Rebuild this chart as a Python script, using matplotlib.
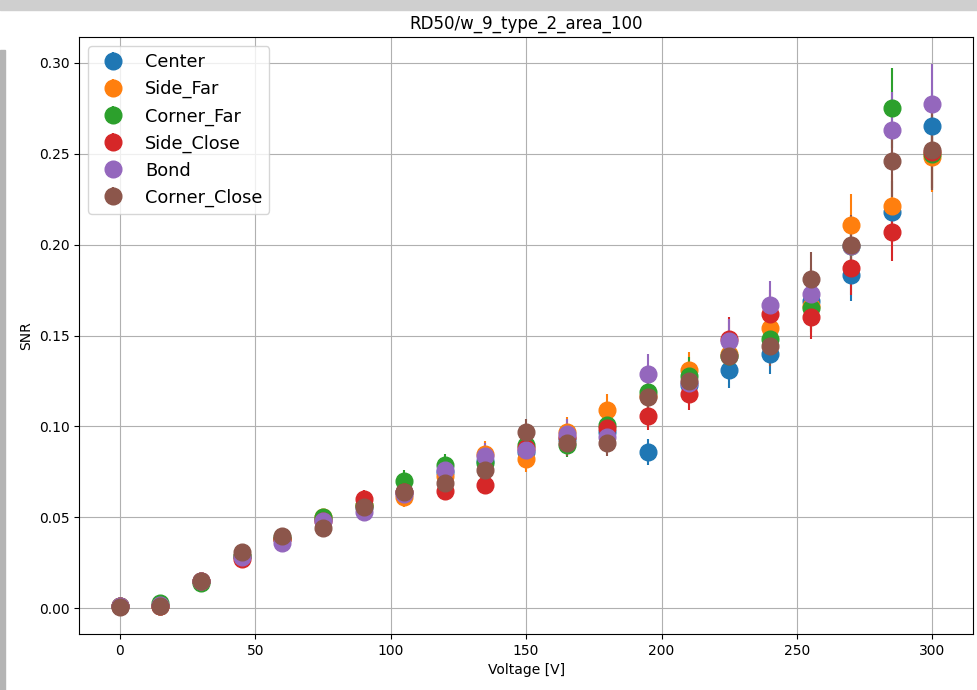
import matplotlib
matplotlib.use("Agg")
import matplotlib.pyplot as plt
from matplotlib.patches import Rectangle

voltage = [0, 15, 30, 45, 60, 75, 90, 105, 120, 135, 150,
           165, 180, 195, 210, 225, 240, 255, 270, 285, 300]

pads = ["Center", "Side_Far", "Corner_Far", "Side_Close", "Bond", "Corner_Close"]

snr_center = [0.0015, 0.0015, 0.015, 0.029, 0.038, 0.049, 0.056, 0.064, 0.075, 0.081, 0.086,
              0.093, 0.097, 0.086, 0.123, 0.131, 0.140, 0.169, 0.183, 0.218, 0.265]
snr_side_far = [0.0015, 0.0015, 0.015, 0.029, 0.038, 0.050, 0.057, 0.061, 0.073, 0.085, 0.082,
                0.097, 0.109, 0.117, 0.131, 0.140, 0.154, 0.166, 0.211, 0.221, 0.248]
snr_corner_far = [0.0015, 0.003, 0.014, 0.029, 0.039, 0.050, 0.057, 0.070, 0.079, 0.080, 0.090,
                  0.090, 0.101, 0.119, 0.128, 0.139, 0.148, 0.165, 0.199, 0.275, 0.250]
snr_side_close = [0.0015, 0.0015, 0.015, 0.027, 0.038, 0.048, 0.060, 0.064, 0.0645, 0.068, 0.088,
                  0.094, 0.099, 0.106, 0.118, 0.148, 0.162, 0.160, 0.187, 0.207, 0.251]
snr_bond = [0.0015, 0.002, 0.015, 0.028, 0.036, 0.048, 0.053, 0.063, 0.076, 0.084, 0.087,
            0.096, 0.094, 0.129, 0.124, 0.147, 0.167, 0.173, 0.199, 0.263, 0.277]
snr_corner_close = [0.001, 0.0015, 0.015, 0.031, 0.040, 0.044, 0.056, 0.064, 0.069, 0.076, 0.097,
                    0.091, 0.091, 0.116, 0.125, 0.139, 0.144, 0.181, 0.200, 0.246, 0.252]

err_center = [0.0002, 0.0002, 0.001, 0.002, 0.003, 0.004, 0.004, 0.005, 0.006, 0.006, 0.007,
              0.007, 0.008, 0.007, 0.010, 0.010, 0.011, 0.013, 0.014, 0.017, 0.020]
err_side_far = [0.0002, 0.0002, 0.001, 0.002, 0.003, 0.004, 0.005, 0.005, 0.006, 0.007, 0.007,
                0.008, 0.009, 0.010, 0.010, 0.011, 0.012, 0.013, 0.017, 0.018, 0.019]
err_corner_far = [0.0002, 0.0003, 0.001, 0.002, 0.003, 0.004, 0.005, 0.006, 0.006, 0.006, 0.007,
                  0.007, 0.008, 0.009, 0.010, 0.011, 0.011, 0.013, 0.016, 0.022, 0.020]
err_side_close = [0.0002, 0.0002, 0.001, 0.002, 0.003, 0.004, 0.005, 0.005, 0.005, 0.005, 0.007,
                  0.007, 0.008, 0.008, 0.009, 0.012, 0.013, 0.012, 0.015, 0.016, 0.020]
err_bond = [0.0002, 0.0002, 0.001, 0.002, 0.003, 0.004, 0.004, 0.005, 0.006, 0.007, 0.007,
            0.008, 0.007, 0.011, 0.010, 0.012, 0.013, 0.014, 0.015, 0.021, 0.022]
err_corner_close = [0.0002, 0.0002, 0.001, 0.002, 0.003, 0.004, 0.004, 0.005, 0.005, 0.006, 0.007,
                    0.007, 0.007, 0.009, 0.010, 0.011, 0.011, 0.015, 0.016, 0.020, 0.022]

values = [snr_center, snr_side_far, snr_corner_far, snr_side_close, snr_bond, snr_corner_close]
errors = [err_center, err_side_far, err_corner_far, err_side_close, err_bond, err_corner_close]

fig = plt.figure(figsize=(9.77, 6.90), dpi=100)
ax = fig.add_axes([0.081, 0.081, 0.915, 0.865])

for name, snr, err in zip(pads, values, errors):
    ax.errorbar(voltage, snr, yerr=err, fmt="o", markersize=12, label=name)

ax.set_title("RD50/w_9_type_2_area_100")
ax.set_xlabel("Voltage [V]")
ax.set_ylabel("SNR")
ax.grid(True)
ax.legend(loc="upper left", fontsize=12.8)

# grey frame strips along the top and left edge
fig.patches.append(Rectangle((0, 0.986), 1, 0.014, transform=fig.transFigure,
                             color="#cfcfcf", zorder=-1))
fig.patches.append(Rectangle((0, 0), 0.005, 0.928, transform=fig.transFigure,
                             color="#b4b4b4", zorder=-1))

fig.savefig("out.png", dpi=100)
